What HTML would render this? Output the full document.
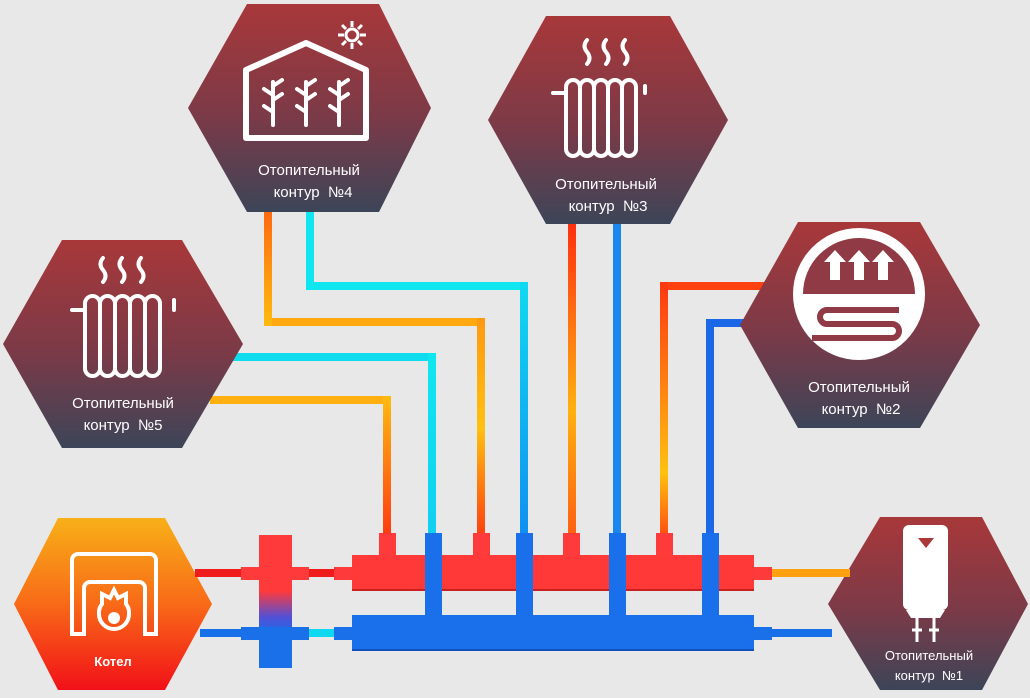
<!DOCTYPE html>
<html><head><meta charset="utf-8"><style>
html,body{margin:0;padding:0;background:#e8e8e8;}
svg{display:block}
text{font-family:"Liberation Sans",sans-serif;fill:#fff;text-anchor:middle;font-size:15px}
</style></head><body>
<svg width="1030" height="698" viewBox="0 0 1030 698" xmlns="http://www.w3.org/2000/svg">
<defs>
<linearGradient id="hx" x1="0" y1="0" x2="0" y2="1"><stop offset="0" stop-color="#a8383a"/><stop offset="0.55" stop-color="#7a3a48"/><stop offset="1" stop-color="#3c4558"/></linearGradient>
<linearGradient id="kt" x1="0" y1="0" x2="0" y2="1"><stop offset="0" stop-color="#f8b018"/><stop offset="0.5" stop-color="#f86a18"/><stop offset="1" stop-color="#f21018"/></linearGradient>
<linearGradient id="od1" gradientUnits="userSpaceOnUse" x1="0" y1="322" x2="0" y2="535"><stop offset="0" stop-color="#ff9a10"/><stop offset="0.5" stop-color="#ffc010"/><stop offset="1" stop-color="#ff4010"/></linearGradient>
<linearGradient id="od2" gradientUnits="userSpaceOnUse" x1="0" y1="400" x2="0" y2="535"><stop offset="0" stop-color="#ffb810"/><stop offset="1" stop-color="#ff3a10"/></linearGradient>
<linearGradient id="ou1" gradientUnits="userSpaceOnUse" x1="0" y1="212" x2="0" y2="322"><stop offset="0" stop-color="#ff6a10"/><stop offset="1" stop-color="#ffb810"/></linearGradient>
<linearGradient id="ou3" gradientUnits="userSpaceOnUse" x1="0" y1="225" x2="0" y2="535"><stop offset="0" stop-color="#ff3010"/><stop offset="0.6" stop-color="#ffb010"/><stop offset="1" stop-color="#ff6010"/></linearGradient>
<linearGradient id="ou2" gradientUnits="userSpaceOnUse" x1="0" y1="286" x2="0" y2="535"><stop offset="0" stop-color="#ff3a10"/><stop offset="0.75" stop-color="#ffc010"/><stop offset="1" stop-color="#ff5010"/></linearGradient>
<linearGradient id="cv1" gradientUnits="userSpaceOnUse" x1="0" y1="286" x2="0" y2="535"><stop offset="0" stop-color="#10d8f0"/><stop offset="1" stop-color="#1090f0"/></linearGradient>
<linearGradient id="cv2" gradientUnits="userSpaceOnUse" x1="0" y1="357" x2="0" y2="535"><stop offset="0" stop-color="#10e6f0"/><stop offset="1" stop-color="#10d0f0"/></linearGradient>
<linearGradient id="sep" x1="0" y1="0" x2="0" y2="1"><stop offset="0" stop-color="#ff3a3a"/><stop offset="0.42" stop-color="#ff3a3a"/><stop offset="0.62" stop-color="#5050d8"/><stop offset="0.75" stop-color="#1a70e8"/><stop offset="1" stop-color="#1a70e8"/></linearGradient>
</defs>

<path d="M268 322 H481" fill="none" stroke="#ffa810" stroke-width="8"/>
<path d="M268 208 V326" fill="none" stroke="url(#ou1)" stroke-width="8"/>
<path d="M481 318 V535" fill="none" stroke="url(#od1)" stroke-width="8"/>
<path d="M310 208 V286 H524" fill="none" stroke="#10e6f0" stroke-width="8"/>
<path d="M524 282 V535" fill="none" stroke="url(#cv1)" stroke-width="8"/>
<path d="M230 357 H436" fill="none" stroke="#10dcf0" stroke-width="8"/>
<path d="M432 353 V535" fill="none" stroke="url(#cv2)" stroke-width="8"/>
<path d="M210 400 H391" fill="none" stroke="#ffb010" stroke-width="8"/>
<path d="M387 396 V535" fill="none" stroke="url(#od2)" stroke-width="8"/>
<path d="M572 220 V535" fill="none" stroke="url(#ou3)" stroke-width="8"/>
<path d="M617 220 V535" fill="none" stroke="#1888ee" stroke-width="8"/>
<path d="M660 286 H770" fill="none" stroke="#ff4010" stroke-width="8"/>
<path d="M664 282 V535" fill="none" stroke="url(#ou2)" stroke-width="8"/>
<path d="M710 535 V323 H760" fill="none" stroke="#1a68e8" stroke-width="8"/>

<polygon points="247,4 379,4 431,108 379,212 247,212 188,108" fill="url(#hx)"/>
<polygon points="546,16 670,16 728,120 670,224 546,224 488,120" fill="url(#hx)"/>
<polygon points="62,240 182,240 243,344 182,448 62,448 3,344" fill="url(#hx)"/>
<polygon points="798,222 920,222 980,325 920,428 798,428 740,325" fill="url(#hx)"/>
<polygon points="880,517 982,517 1028,604 982,690 880,690 828,604" fill="url(#hx)"/>
<polygon points="58,518 165,518 212,604 165,690 58,690 14,604" fill="url(#kt)"/>

<rect x="195" y="569" width="48" height="8" fill="#f01c1c"/>
<rect x="308" y="569" width="28" height="8" fill="#f01c1c"/>
<rect x="200" y="629" width="43" height="8" fill="#1870e8"/>
<rect x="308" y="629" width="28" height="8" fill="#10d8f0"/>
<rect x="770" y="569" width="80" height="8" fill="#ffa010"/>
<rect x="770" y="629" width="62" height="8" fill="#1870e8"/>

<rect x="259" y="535" width="33" height="133" fill="url(#sep)"/>
<rect x="241" y="567" width="68" height="13" fill="#ff3a3a"/>
<rect x="241" y="627" width="68" height="13" fill="#1a70e8"/>

<rect x="334" y="567" width="20" height="13" fill="#ff3a3a"/>
<rect x="752" y="567" width="20" height="13" fill="#ff3a3a"/>
<rect x="352" y="555" width="402" height="36" fill="#ff3838"/>
<rect x="352" y="589" width="402" height="2" fill="#c82020"/>
<rect x="334" y="627" width="20" height="13" fill="#1a70e8"/>
<rect x="752" y="627" width="20" height="13" fill="#1a70e8"/>
<rect x="352" y="615" width="402" height="36" fill="#1a70ea"/>
<rect x="352" y="649" width="402" height="2" fill="#1050b8"/>
<g fill="#ff3a3a">
<rect x="379" y="533" width="17" height="24"/><rect x="473" y="533" width="17" height="24"/>
<rect x="563" y="533" width="17" height="24"/><rect x="656" y="533" width="17" height="24"/>
</g>
<g fill="#1a70ea">
<rect x="425" y="533" width="17" height="84"/><rect x="516" y="533" width="17" height="84"/>
<rect x="609" y="533" width="17" height="84"/><rect x="702" y="533" width="17" height="84"/>
</g>

<g fill="none" stroke="#fff" stroke-width="6" stroke-linejoin="round">
<path d="M246 138 V70 L306 43 L366 70 V138 Z"/>
</g>
<g fill="none" stroke="#fff" stroke-width="3">
<circle cx="352" cy="35" r="6"/>
<path d="M352 21v6M352 43v6M338 35h6M360 35h6M342 25l4 4M358 41l4 4M342 45l4-4M358 29l4-4"/>
</g>
<g fill="none" stroke="#fff" stroke-width="4" stroke-linecap="round">
<path d="M273 125 V82 M273 112 l-9 -6 M273 100 l9 -6 M273 95 l-9 -6 M273 86 l9 -6"/>
<path d="M306 125 V82 M306 112 l-9 -6 M306 100 l9 -6 M306 95 l-9 -6 M306 86 l9 -6"/>
<path d="M339 125 V82 M339 112 l-9 -6 M339 100 l9 -6 M339 95 l-9 -6 M339 86 l9 -6"/>
</g>
<text x="309" y="175">Отопительный</text>
<text x="313" y="197">контур&#160;&#160;№4</text>

<g fill="none" stroke="#fff" stroke-width="4" stroke-linecap="round">
<path d="M587 40 q-5 6 0 12 q5 6 0 12 M606 40 q-5 6 0 12 q5 6 0 12 M625 40 q-5 6 0 12 q5 6 0 12"/>
<path d="M553 93 H566 M645 93 V86"/>
<rect x="566" y="80" width="14" height="76" rx="7"/><rect x="580" y="80" width="14" height="76" rx="7"/>
<rect x="594" y="80" width="14" height="76" rx="7"/><rect x="608" y="80" width="14" height="76" rx="7"/>
<rect x="622" y="80" width="14" height="76" rx="7"/>
</g>
<text x="606" y="189">Отопительный</text>
<text x="608" y="211">контур&#160;&#160;№3</text>

<g fill="none" stroke="#fff" stroke-width="4" stroke-linecap="round">
<path d="M103 258 q-5 6 0 12 q5 6 0 12 M122 258 q-5 6 0 12 q5 6 0 12 M141 258 q-5 6 0 12 q5 6 0 12"/>
<path d="M72 310 H85 M174 310 V300"/>
<rect x="85" y="296" width="15" height="80" rx="7.5"/><rect x="100" y="296" width="15" height="80" rx="7.5"/>
<rect x="115" y="296" width="15" height="80" rx="7.5"/><rect x="130" y="296" width="15" height="80" rx="7.5"/>
<rect x="145" y="296" width="15" height="80" rx="7.5"/>
</g>
<text x="123" y="408">Отопительный</text>
<text x="123" y="430">контур&#160;&#160;№5</text>

<!-- floor heating contour 2 -->
<circle cx="859" cy="294" r="66" fill="#fff"/>
<path d="M803 294 A56 56 0 0 1 915 294 Z" fill="#8f3a44"/>
<path d="M899 310 H827 a7 7 0 0 0 0 14 H892 a7 7 0 0 1 0 14 H812" fill="none" stroke="#8f3a44" stroke-width="6"/>
<g fill="#fff">
<path d="M824 262 l11 -12 l11 12 h-6 v18 h-10 v-18z"/>
<path d="M848 262 l11 -12 l11 12 h-6 v18 h-10 v-18z"/>
<path d="M872 262 l11 -12 l11 12 h-6 v18 h-10 v-18z"/>
</g>
<text x="859" y="392">Отопительный</text>
<text x="861" y="414">контур&#160;&#160;№2</text>

<rect x="903" y="525" width="45" height="85" rx="6" fill="#fff"/>
<path d="M906 610 h39 l-5 8 h-29z" fill="#fff"/>
<path d="M918 538 h16 l-8 10z" fill="#a8383a"/>
<g stroke="#fff" stroke-width="3"><path d="M917 618 V642 M934 618 V642 M912 630 h10 M929 630 h10"/></g>
<text x="929" y="660" style="font-size:13px">Отопительный</text>
<text x="929" y="680" style="font-size:13px">контур&#160;&#160;№1</text>

<g fill="none" stroke="#fff" stroke-width="4">
<path d="M72 634 V560 a6 6 0 0 1 6 -6 H150 a6 6 0 0 1 6 6 V634 H145 V588 a6 6 0 0 0 -6 -6 H90 a6 6 0 0 0 -6 6 V634 Z"/>
<path d="M114 590 l4 8 l8 -4 l0 10 a14 14 0 0 1 3 10 a15 15 0 0 1 -30 0 a14 14 0 0 1 3 -10 l0 -10 l8 4z"/>
</g>
<circle cx="114" cy="618" r="6" fill="#fff"/>
<text x="113" y="666" style="font-size:13px;font-weight:bold">Котел</text>
</svg>
</body></html>
